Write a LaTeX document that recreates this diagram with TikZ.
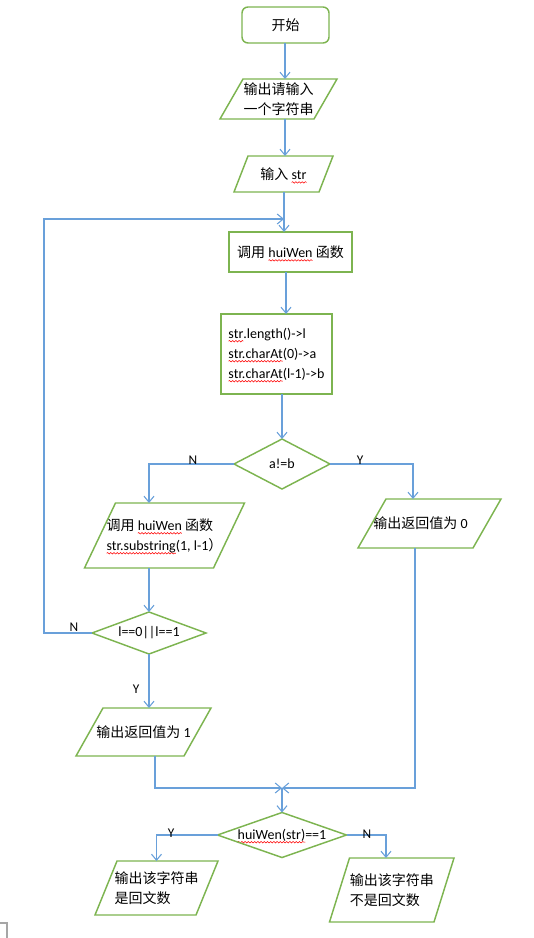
\documentclass[tikz,border=0pt]{standalone}
\usepackage{fontspec}
\setmainfont{Carlito}
\newfontfamily\cjk{Noto Sans CJK SC}
\usetikzlibrary{arrows.meta,decorations.pathmorphing}
\definecolor{bl}{RGB}{105,160,218}
\definecolor{gr}{RGB}{125,180,80}
\newcommand\zh[1]{{\cjk #1}}
\newsavebox\sqbox
\newcommand\sq[1]{\sbox\sqbox{#1}\tikz[overlay, baseline=0pt, x=1pt, y=1pt]\draw[red, line width=0.4pt, decorate, decoration={snake, amplitude=0.55pt, segment length=2.4pt}] (0,-2.3) -- (\the\wd\sqbox,-2.3);\usebox\sqbox}
\tikzset{
  gline/.style={draw=gr, line width=1.1pt, line join=miter},
  ptext/.style={inner sep=0pt, outer sep=0pt, align=left},
  arr/.style={draw=bl, line width=0.8pt, -{Straight Barb[length=4.5pt,width=7.5pt]}},
  ln/.style={draw=bl, line width=0.8pt},
  lbl/.style={inner sep=0pt, font=\fontsize{10pt}{12pt}\selectfont}
}
\newcommand\para[6]{%
  \node[ptext, minimum width={#3*0.75pt}, minimum height={#4*0.75pt}] (#1) at (#2) {#6};
  \draw[gline] ([xshift={#5*0.375pt}]#1.north west) -- ([xshift={#5*0.375pt}]#1.north east)
    -- ([xshift={-#5*0.375pt}]#1.south east) -- ([xshift={-#5*0.375pt}]#1.south west) -- cycle;}
\newcommand\dia[5]{%
  \node[ptext, minimum width={#3*0.75pt}, minimum height={#4*0.75pt}] (#1) at (#2) {#5};
  \draw[gline] (#1.north) -- (#1.east) -- (#1.south) -- (#1.west) -- cycle;}
\newcommand\rbox[5]{%
  \node[ptext, draw=gr, line width=1.1pt, minimum width={#3*0.75pt}, minimum height={#4*0.75pt}] (#1) at (#2) {#5};}
\begin{document}
\begin{tikzpicture}[x=0.75pt, y=-0.75pt, font=\fontsize{10.5pt}{15pt}\selectfont]
\useasboundingbox (0,0) rectangle (534,938);
% corner mark
\draw[gray!70, line width=0.8pt] (0,923) -- (7,923) -- (7,938);

\node[ptext, draw=gr, line width=1.1pt, rounded corners=4.5pt, minimum width={87*0.75pt}, minimum height={36*0.75pt}] (start) at (285.5,25) {\zh{开始}};
\para{p1}{278.5,99}{94}{40}{23}{\zh{输出请输入}\\\zh{一个字符串}}
\para{p2}{283.5,174}{85}{36}{14}{\zh{输入} \sq{str}}
\rbox{box1}{290.5,252}{123}{40}{\zh{调用} \sq{huiWen} \zh{函数}}
\rbox{box2}{276.5,354}{111}{80}{\sq{str}.length()->l\\\sq{str.charAt}(0)->a\\\sq{str.charAt}(l-1)->b}
\dia{d1}{282,464}{96}{50}{a!=b}
\para{p3}{164.5,535.5}{129}{65}{31}{\zh{调用} \sq{huiWen} \zh{函数}\\\sq{str.substring}(1, l-1\zh{）}}
\para{p5}{429.5,523.5}{115}{49}{28}{\zh{输出返回值为} 0\hspace*{13.5pt}}
\dia{d2}{149,633}{114}{42}{l==0||l==1}
\para{p4}{143.5,732}{108}{48}{27}{\zh{输出返回值为} 1}
\dia{d3}{282,835}{129}{45}{\sq{huiWen(str)}==1}
\para{p6}{156.5,888}{101}{54}{22}{\zh{输出该字符串}\\\zh{是回文数}}
\para{p7}{391.75,890}{104.5}{64}{20}{\zh{输出该字符串}\\\zh{不是回文数}}

\coordinate (ax) at (285,0);
\coordinate (loopc) at (44,219);
\coordinate (loopend) at (284,219);
\coordinate (p5in) at (413,499);
\coordinate (m) at (282,788);
\coordinate (p7in) at (386,858);

\draw[arr] (ax |- start.south) -- (ax |- p1.north);
\draw[arr] (ax |- p1.south) -- (ax |- p2.north);
\draw[arr] ([xshift=-0.75pt]ax |- p2.south) -- ([xshift=-0.75pt]ax |- box1.north);
\draw[arr] (d2.west) -| (loopc) -- (loopend);
\draw[arr] ([xshift=0.75pt]ax |- box1.south) -- ([xshift=0.75pt]ax |- box2.north);
\draw[arr] (d1.north |- box2.south) -- (d1.north);
\draw[arr] (d1.west) -| (d2.north |- p3.north);
\draw[arr] (d1.east) -| (p5in);
\draw[arr] (d2.north |- p3.south) -- (d2.north);
\draw[arr] (d2.south) -- (d2.south |- p4.north);
\draw[arr] ([xshift={11.5*0.75pt}]p4.south) |- (m);
\draw[arr] ([xshift={-14.5*0.75pt}]p5.south) |- (m);
\draw[arr] (m) -- (d3.north);
\draw[arr] (d3.west) -| (p6.north);
\draw[arr] (d3.east) -| (p7in);

\node[lbl] (n1) at (193,460) {N};
\node[lbl] (y1) at (360,460) {Y};
\node[lbl] (n2) at (74,627) {N};
\node[lbl] (y2) at (136,689) {Y};
\node[lbl] (y3) at (171,833) {Y};
\node[lbl] (n3) at (367,834) {N};
\end{tikzpicture}
\end{document}
